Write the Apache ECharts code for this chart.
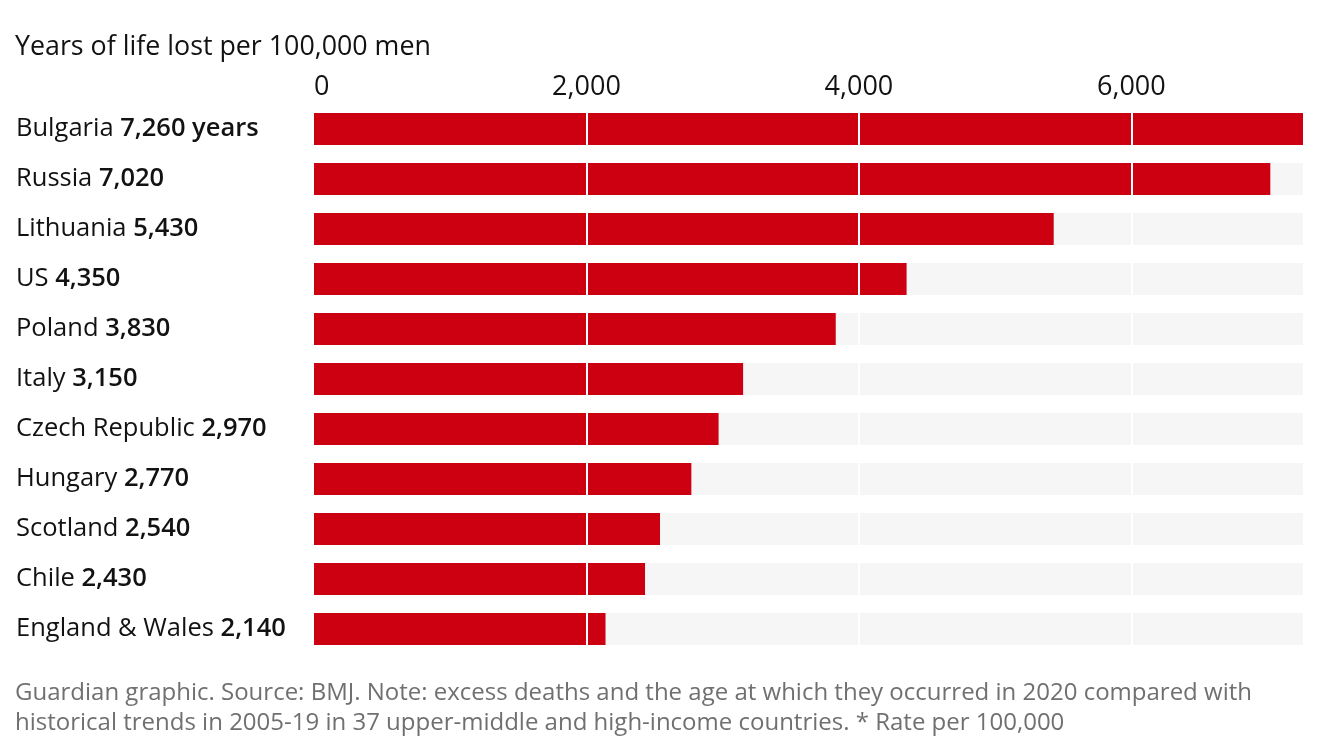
<!DOCTYPE html>
<html>
<head>
<meta charset="utf-8">
<script src="https://cdn.jsdelivr.net/npm/echarts@6/dist/echarts.min.js"></script>
<style>
html,body{margin:0;padding:0;background:#fff;}
#chart{width:1324px;height:750px;}
</style>
</head>
<body>
<div id="chart"></div>
<script>
const countries = ["Bulgaria", "Russia", "Lithuania", "US", "Poland", "Italy", "Czech Republic", "Hungary", "Scotland", "Chile", "England & Wales"];
const values = [7260, 7020, 5430, 4350, 3830, 3150, 2970, 2770, 2540, 2430, 2140];
const ticks = [0, 2000, 4000, 6000];
const titleText = "Years of life lost per 100,000 men";
const footerLines = [
  "Guardian graphic. Source: BMJ. Note: excess deaths and the age at which they occurred in 2020 compared with",
  "historical trends in 2005-19 in 37 upper-middle and high-income countries. * Rate per 100,000"
];

const FONT = "Open Sans";
const chart = echarts.init(document.getElementById('chart'));
const fmt = v => v.toLocaleString('en-US');

chart.setOption({
  animation: false,
  backgroundColor: '#ffffff',
  textStyle: { fontFamily: FONT },
  grid: { left: 314, right: 21, top: 104, bottom: 96, containLabel: false },
  graphic: [
    { type: 'text', left: 15, top: 34, style: { text: titleText, font: '26.8px "Open Sans"', fill: '#121212' } },
    { type: 'text', left: 15, top: 678, style: { text: footerLines.join('\n'), font: '24px "Open Sans"', fill: '#707070', lineHeight: 30 } }
  ],
  xAxis: {
    type: 'value',
    position: 'top',
    min: 0,
    max: values[0],
    interval: 2000,
    axisLine: { show: false },
    axisTick: { show: false },
    splitLine: { show: false },
    axisLabel: {
      margin: 3,
      fontSize: 27,
      color: '#121212',
      fontFamily: FONT,
      showMaxLabel: false,
      alignMinLabel: 'left',
      formatter: v => ticks.indexOf(v) >= 0 ? fmt(v) : ''
    }
  },
  yAxis: {
    type: 'category',
    data: countries,
    inverse: true,
    axisLine: { show: false },
    axisTick: { show: false },
    splitLine: { show: false },
    axisLabel: {
      align: 'left',
      margin: 298,
      formatter: (name, idx) => '{n|' + name + ' }{v|' + fmt(values[idx]) + (idx === 0 ? ' years' : '') + '}',
      rich: {
        n: { fontSize: 25.5, color: '#121212', fontFamily: FONT },
        v: { fontSize: 25.5, color: '#121212', fontFamily: FONT, fontWeight: 600 }
      }
    }
  },
  series: [{
    type: 'bar',
    data: values,
    barWidth: 32,
    itemStyle: { color: '#cc0010' },
    showBackground: true,
    backgroundStyle: { color: '#f6f6f6' },
    markLine: {
      silent: true,
      symbol: 'none',
      label: { show: false },
      lineStyle: { color: '#ffffff', width: 2, type: 'solid' },
      data: ticks.filter(t => t > 0).map(t => ({ xAxis: t }))
    }
  }]
});
</script>
</body>
</html>
